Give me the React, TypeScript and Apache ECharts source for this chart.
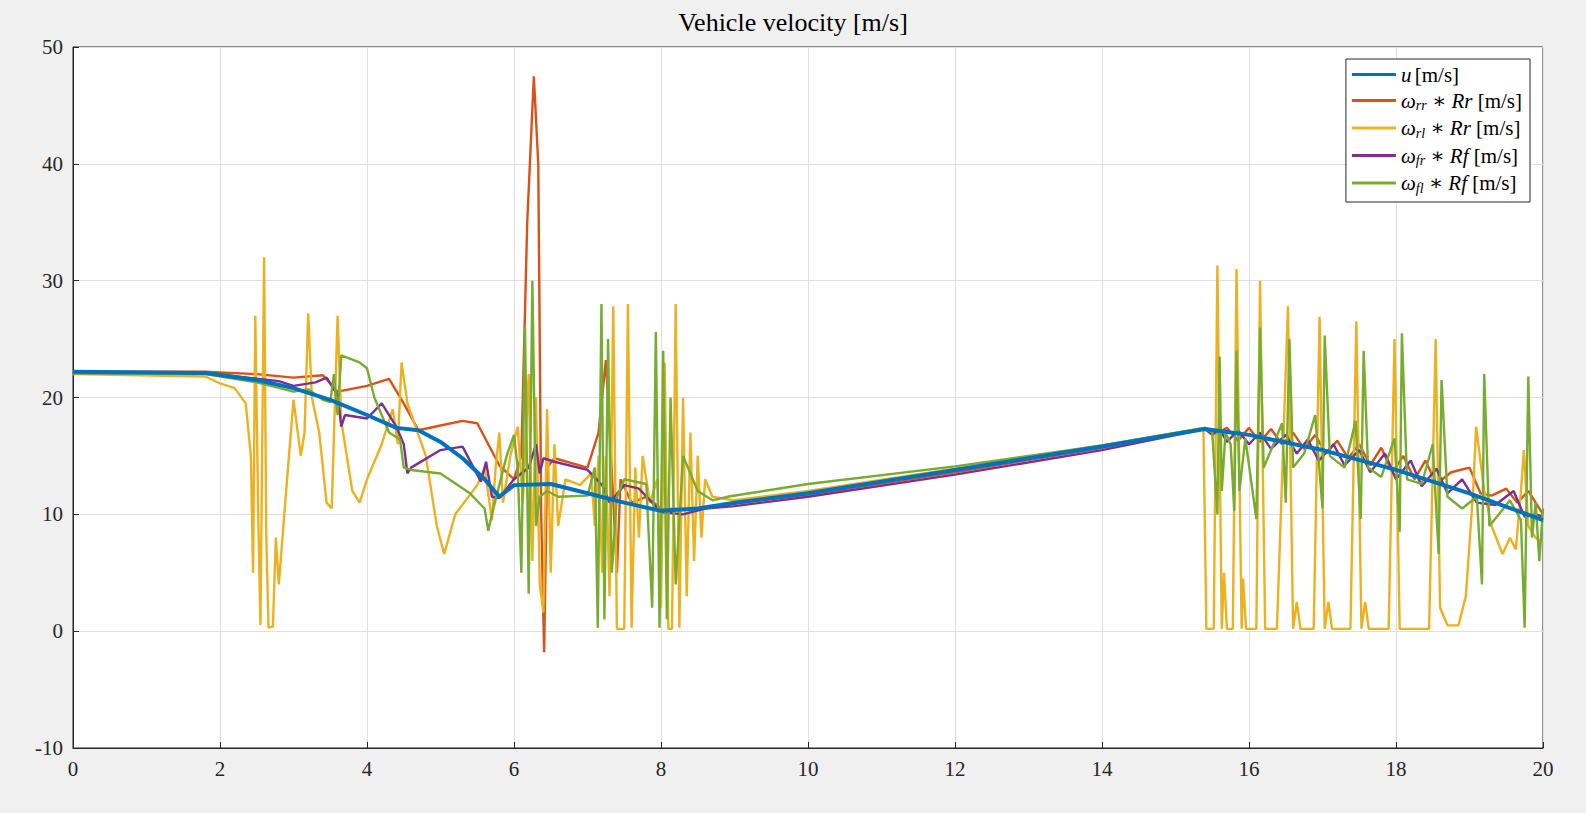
import React, { useEffect, useRef } from 'react';
import * as echarts from 'echarts';

// [t, v] pairs
const uData = [
  [0, 22.2], [1.8, 22.1], [2.5, 21.5], [3, 20.8], [3.5, 19.8], [4, 18.5], [4.4, 17.4], [4.7, 17.2],
  [5, 16.2], [5.3, 14.8], [5.6, 13], [5.8, 11.5], [6, 12.5], [6.5, 12.6], [7, 11.8], [7.5, 11],
  [8, 10.3], [8.5, 10.5], [9, 11], [10, 11.8], [12, 13.8], [14, 15.8], [15.4, 17.3], [16, 16.8],
  [17, 15.5], [18, 13.8], [19, 11.8], [20, 9.5],
];

const rrData = [
  [0, 22.2], [1.8, 22.2], [2.5, 22], [3, 21.7], [3.4, 21.9], [3.6, 20.5], [4, 21], [4.3, 21.6],
  [4.5, 19.5], [4.7, 17.2], [5, 17.6], [5.3, 18], [5.5, 17.8], [5.8, 14.2], [6, 13], [6.1, 15],
  [6.18, 35], [6.27, 47.5], [6.33, 40], [6.37, 10], [6.41, -1.8], [6.45, 14], [6.55, 14.8], [7, 14],
  [7.15, 17], [7.25, 23.2], [7.32, 15], [7.4, 5], [7.45, 13], [7.6, 11], [7.8, 11.5], [8, 10.5],
  [8.5, 10.4], [9, 10.9], [10, 11.7], [12, 13.6], [14, 15.7], [15.4, 17.4], [15.55, 16.9],
  [15.7, 17.4], [15.85, 16.3], [16, 17.4], [16.15, 16.2], [16.3, 17.3], [16.45, 16], [16.6, 17],
  [16.75, 15.6], [16.9, 16.8], [17.05, 15.2], [17.2, 16.3], [17.35, 14.8], [17.5, 16],
  [17.65, 14.2], [17.8, 15.7], [17.95, 13.6], [18.1, 15], [18.25, 13], [18.4, 14.6], [18.55, 12.6],
  [18.75, 13.6], [19, 14], [19.15, 11.8], [19.3, 11.6], [19.5, 12.2], [19.65, 11], [19.8, 12],
  [20, 10],
];

const rlData = [
  [0, 22], [1.8, 21.8], [2, 21.2], [2.2, 20.8], [2.35, 19.5], [2.42, 15], [2.45, 5], [2.48, 27],
  [2.52, 10], [2.55, 0.5], [2.6, 32], [2.63, 8], [2.66, 0.3], [2.72, 0.4], [2.76, 8], [2.8, 4],
  [2.9, 12], [3, 19.8], [3.1, 15], [3.15, 17], [3.2, 27.2], [3.25, 20], [3.35, 17], [3.45, 11],
  [3.52, 10.5], [3.6, 27], [3.65, 18], [3.8, 12], [3.9, 11], [4, 13], [4.2, 16], [4.35, 19],
  [4.42, 16], [4.47, 23], [4.55, 19.5], [4.8, 15], [4.95, 9], [5.05, 6.6], [5.2, 10], [5.5, 12.5],
  [5.6, 14], [5.7, 9.5], [5.75, 14], [5.8, 17], [5.85, 11], [5.95, 15], [6.05, 17.5], [6.12, 11],
  [6.2, 22], [6.25, 6], [6.3, 20], [6.35, 4], [6.4, 1.6], [6.45, 19], [6.5, 5], [6.55, 16],
  [6.6, 9], [6.7, 13], [6.9, 12.5], [7.05, 13.5], [7.1, 9], [7.15, 15], [7.2, 5], [7.25, 15],
  [7.3, 3], [7.35, 27.8], [7.4, 0.2], [7.5, 0.2], [7.55, 28], [7.6, 0.3], [7.65, 14], [7.7, 8],
  [7.75, 15], [7.85, 11], [7.95, 13], [8, 2], [8.05, 23], [8.1, 0.2], [8.15, 0.2], [8.2, 28],
  [8.25, 0.3], [8.3, 20], [8.35, 3], [8.4, 17], [8.45, 6], [8.5, 15], [8.55, 8], [8.6, 13],
  [8.7, 11.5], [9, 11.2], [10, 12], [12, 13.9], [14, 15.9], [15.38, 17.4], [15.42, 0.2],
  [15.52, 0.2], [15.57, 31.3], [15.63, 0.2], [15.66, 5], [15.7, 0.2], [15.78, 0.2], [15.83, 31],
  [15.9, 0.2], [15.92, 4.5], [15.96, 0.2], [16.1, 0.2], [16.15, 30], [16.22, 0.2], [16.38, 0.2],
  [16.53, 27.8], [16.6, 0.2], [16.65, 2.5], [16.7, 0.2], [16.88, 0.2], [16.96, 26.9], [17.03, 0.2],
  [17.08, 2.5], [17.13, 0.2], [17.38, 0.2], [17.46, 26.5], [17.53, 0.2], [17.58, 2.5],
  [17.63, 0.2], [17.9, 0.2], [17.98, 25], [18.05, 0.2], [18.45, 0.2], [18.54, 25], [18.6, 2],
  [18.7, 0.5], [18.85, 0.5], [18.95, 3], [19.05, 12], [19.09, 17.5], [19.2, 12], [19.3, 9],
  [19.45, 6.6], [19.55, 8], [19.63, 7], [19.7, 12], [19.74, 15.5], [19.8, 9], [19.9, 8], [20, 7.5],
];

const frData = [
  [0, 22.1], [1.8, 22.1], [2.5, 21.6], [2.8, 21.4], [3, 21], [3.3, 21.3], [3.45, 21.7],
  [3.6, 20.2], [3.65, 17.5], [3.7, 18.5], [4, 18.2], [4.2, 19.5], [4.4, 17.5], [4.5, 16],
  [4.55, 13.5], [4.6, 14], [5, 15.5], [5.3, 15.8], [5.55, 12.8], [5.62, 14.5], [5.7, 11.5],
  [5.8, 11.4], [6, 13], [6.2, 14], [6.3, 16], [6.35, 13.5], [6.4, 14.8], [6.55, 14.5], [7, 13.8],
  [7.2, 12.5], [7.3, 11], [7.5, 12.5], [7.7, 12.2], [8, 10.2], [8.3, 10], [8.6, 10.5], [9, 10.7],
  [10, 11.5], [12, 13.4], [14, 15.5], [15.4, 17.3], [15.5, 16.8], [15.6, 17.3], [15.7, 16.2],
  [15.85, 17.2], [16, 16], [16.15, 17], [16.3, 15.6], [16.5, 16.8], [16.65, 15.2], [16.8, 16.4],
  [16.95, 14.6], [17.15, 16], [17.3, 14.2], [17.5, 15.5], [17.65, 13.6], [17.85, 15.2],
  [18, 13], [18.2, 14.6], [18.35, 12.4], [18.55, 13.9], [18.7, 11.8], [18.9, 13], [19.1, 11],
  [19.35, 10.8], [19.6, 12], [19.75, 9.8], [19.9, 10], [20, 9.8],
];

const flData = [
  [0, 22.1], [1.8, 22], [2.5, 21.3], [3, 20.5], [3.2, 20.7], [3.4, 19.8], [3.5, 19.6],
  [3.55, 22], [3.6, 18.5], [3.65, 23.6], [3.9, 23], [4, 22.5], [4.1, 20], [4.3, 17], [4.45, 16.4],
  [4.5, 14], [4.6, 13.8], [5, 13.5], [5.4, 11.8], [5.6, 10.5], [5.65, 8.6], [5.7, 10],
  [5.9, 15], [6, 16.8], [6.05, 14], [6.1, 5], [6.15, 26], [6.2, 3.2], [6.25, 30], [6.3, 9],
  [6.35, 11.5], [6.45, 12], [6.6, 11.5], [7, 11.6], [7.1, 14], [7.14, 0.3], [7.19, 28],
  [7.23, 1], [7.28, 25], [7.33, 5], [7.4, 11.5], [7.5, 13], [7.8, 12.6], [7.88, 2],
  [7.93, 25.6], [7.98, 0.3], [8.03, 24], [8.08, 1], [8.13, 20], [8.2, 4], [8.3, 15], [8.5, 12],
  [8.7, 11.2], [8.9, 11.5], [10, 12.6], [12, 14.1], [14, 15.9], [15.4, 17.4], [15.5, 17],
  [15.57, 10], [15.6, 23.5], [15.63, 12], [15.68, 17], [15.75, 16], [15.8, 10.3], [15.83, 24],
  [15.87, 12], [15.95, 16.5], [16.1, 9.6], [16.15, 26], [16.2, 14], [16.3, 15.5], [16.45, 17.8],
  [16.5, 11], [16.55, 25], [16.6, 14], [16.75, 15.2], [16.9, 18.5], [17, 10.5], [17.03, 25.3],
  [17.1, 15], [17.3, 14], [17.45, 18], [17.52, 9.6], [17.56, 24], [17.62, 14], [17.8, 13.2],
  [17.98, 16.5], [18.05, 8.5], [18.08, 25.5], [18.15, 13], [18.35, 12.6], [18.5, 16],
  [18.58, 6.6], [18.62, 21.5], [18.7, 11.5], [18.9, 10.5], [19.1, 11.5], [19.17, 4],
  [19.2, 22], [19.27, 9], [19.4, 10], [19.55, 11.2], [19.7, 9.5], [19.75, 0.3], [19.8, 21.8],
  [19.85, 8], [19.9, 11], [19.95, 6], [20, 10.5],
];

const xTicks = [0, 2, 4, 6, 8, 10, 12, 14, 16, 18, 20];
const yTicks = [-10, 0, 10, 20, 30, 40, 50];

const serif = "'Liberation Serif', 'DejaVu Serif', serif";

const legendRich = {
  w: { fontFamily: serif, fontSize: 21, fontStyle: 'italic', color: '#000' },
  s: { fontFamily: serif, fontSize: 14, fontStyle: 'italic', color: '#000', verticalAlign: 'bottom', padding: [10, 0, 0, 0] },
  t: { fontFamily: serif, fontSize: 21, color: '#000' },
  i: { fontFamily: serif, fontSize: 21, fontStyle: 'italic', color: '#000' },
};

const legendText: Record<string, string> = {
  u: '{i|u} {t|[m/s]}',
  rr: '{w|ω}{s|rr}{t| ∗ }{i|Rr}{t| [m/s]}',
  rl: '{w|ω}{s|rl}{t| ∗ }{i|Rr}{t| [m/s]}',
  fr: '{w|ω}{s|fr}{t| ∗ }{i|Rf}{t| [m/s]}',
  fl: '{w|ω}{s|fl}{t| ∗ }{i|Rf}{t| [m/s]}',
};

const App = () => {
  const chartRef = useRef<HTMLDivElement>(null);

  useEffect(() => {
    const chart = echarts.init(chartRef.current, null, { renderer: 'svg' });
    const line = (name: string, data: number[][], color: string, width: number) => ({
      name, type: 'line', data, showSymbol: false, symbol: 'none',
      lineStyle: { color, width }, itemStyle: { color }, z: name === 'u' ? 3 : 2,
    });
    chart.setOption({
      animation: false,
      backgroundColor: '#f0f0f0',
      title: {
        text: 'Vehicle velocity [m/s]', left: 'center', top: 4,
        textStyle: { fontFamily: serif, fontSize: 26, fontWeight: 'normal', color: '#000' },
      },
      grid: {
        left: 73, right: 43, top: 47, bottom: 65, show: true,
        backgroundColor: '#fff', borderColor: '#262626', borderWidth: 1,
      },
      legend: {
        orient: 'vertical', right: 56, top: 59, itemGap: 5, itemWidth: 44, itemHeight: 3,
        backgroundColor: '#fff', borderColor: '#262626', borderWidth: 1, padding: [5, 8, 7, 6],
        icon: 'rect',
        formatter: (n: string) => legendText[n],
        textStyle: { rich: legendRich },
        data: ['u', 'rr', 'rl', 'fr', 'fl'],
      },
      xAxis: {
        type: 'value', min: 0, max: 20, interval: 2,
        axisLine: { onZero: false, lineStyle: { color: '#262626' } },
        axisTick: { inside: true, length: 6, lineStyle: { color: '#262626' } },
        axisLabel: { fontFamily: serif, fontSize: 21, color: '#262626', margin: 10,
          formatter: (v: number) => (xTicks.includes(v) ? String(v) : '') },
        splitLine: { show: true, lineStyle: { color: '#dfdfdf' } },
      },
      yAxis: {
        type: 'value', min: -10, max: 50, interval: 10,
        axisLine: { show: true, onZero: false, lineStyle: { color: '#262626' } },
        axisTick: { show: true, inside: true, length: 6, lineStyle: { color: '#262626' } },
        axisLabel: { fontFamily: serif, fontSize: 21, color: '#262626', margin: 10,
          formatter: (v: number) => (yTicks.includes(v) ? String(v) : '') },
        splitLine: { show: true, lineStyle: { color: '#dfdfdf' } },
      },
      series: [
        line('rr', rrData, '#D95319', 2.4),
        line('rl', rlData, '#EDB120', 2.4),
        line('fr', frData, '#7E2F8E', 2.4),
        line('fl', flData, '#77AC30', 2.4),
        line('u', uData, '#0072BD', 4),
      ],
    });
    return () => chart.dispose();
  }, []);

  return <div ref={chartRef} style={{ position: 'fixed', left: 0, top: 0, width: 1586, height: 813 }} />;
};

export default App;
